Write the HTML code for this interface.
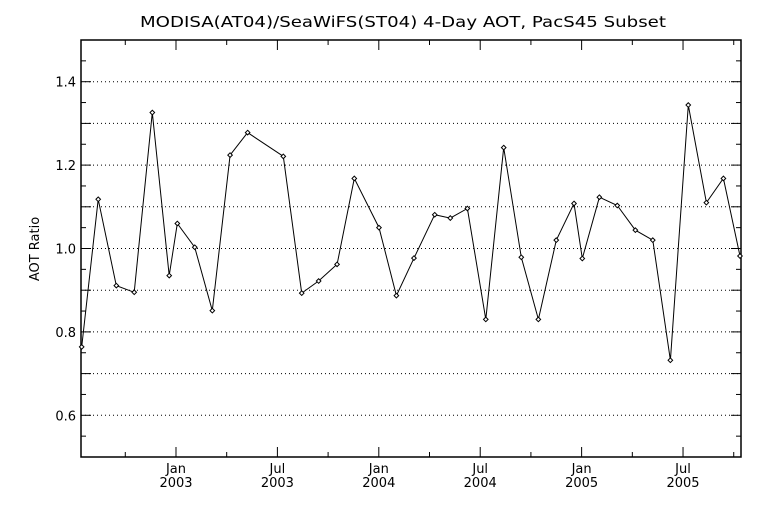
<!DOCTYPE html>
<html><head><meta charset="utf-8"><style>
body{margin:0;background:#fff}
svg{display:block;font-family:"DejaVu Sans","Liberation Sans",sans-serif}
</style></head><body>
<svg id="chart" width="768" height="512" viewBox="0 0 768 512" xmlns="http://www.w3.org/2000/svg">
<rect width="768" height="512" fill="#fff"/>
<text x="403" y="27" font-size="15" text-anchor="middle" textLength="526" lengthAdjust="spacingAndGlyphs">MODISA(AT04)/SeaWiFS(ST04) 4-Day AOT, PacS45 Subset</text>
<text transform="translate(39,249) rotate(-90)" font-size="13" text-anchor="middle">AOT Ratio</text>
<g id="grid"></g><g id="axes"></g><g id="series"></g>
</svg>
<script>
// months since Jan 2003 (0 = Jan 2003)
const months=[-5.58,-4.60,-3.53,-2.47,-1.40,-0.40,0.08,1.11,2.15,3.20,4.24,6.35,7.44,8.44,9.53,10.55,12.01,13.04,14.08,15.31,16.23,17.24,18.33,19.39,20.43,21.44,22.50,23.55,24.04,25.05,26.11,27.18,28.21,29.25,30.31,31.38,32.39,33.37];
const ratios=[0.764,1.118,0.911,0.895,1.326,0.935,1.060,1.003,0.851,1.224,1.278,1.221,0.893,0.922,0.962,1.168,1.050,0.887,0.977,1.081,1.073,1.096,0.830,1.242,0.979,0.830,1.020,1.108,0.976,1.123,1.103,1.044,1.020,0.732,1.344,1.110,1.168,0.982];
const yTickVals=[0.6,0.8,1.0,1.2,1.4];
const yTickLabels=["0.6","0.8","1.0","1.2","1.4"];
const xTickMonths=[0,6,12,18,24,30];
const xTickLabels=[["Jan","2003"],["Jul","2003"],["Jan","2004"],["Jul","2004"],["Jan","2005"],["Jul","2005"]];

const L=81,R=741,T=40,B=457,xMin=-5.62,xMax=33.43,yMin=0.5,yMax=1.5;
const X=m=>L+(m-xMin)/(xMax-xMin)*(R-L);
const Y=v=>B-(v-yMin)/(yMax-yMin)*(B-T);
const NS="http://www.w3.org/2000/svg";
function mk(tag,attrs,parent){const e=document.createElementNS(NS,tag);for(const k in attrs)e.setAttribute(k,attrs[k]);parent.appendChild(e);return e;}
const grid=document.getElementById('grid'),axes=document.getElementById('axes'),series=document.getElementById('series');

for(let i=6;i<=14;i++){const v=i/10;
 const g=mk('line',{x1:L,x2:R,y1:Y(v),y2:Y(v),stroke:'#000','stroke-width':1,'stroke-dasharray':'1 3'},grid);
 
 
}
const box=mk('rect',{x:L,y:T,width:R-L,height:B-T,fill:'none',stroke:'#000','stroke-width':1.5},axes);


for(let i=11;i<=29;i++){const v=i/20;const len=(i%2==0)?10:5;
 mk('line',{x1:L,x2:L+len,y1:Y(v),y2:Y(v),stroke:'#000'},axes);
 mk('line',{x1:R,x2:R-len,y1:Y(v),y2:Y(v),stroke:'#000'},axes);
}
yTickVals.forEach((v,i)=>{const t=mk('text',{x:L-5,y:Y(v)+5,'font-size':13,'text-anchor':'end'},axes);t.textContent=yTickLabels[i];
 
 
});
for(let m=-3;m<=33;m+=3){const len=(m%6==0)?10:5;
 mk('line',{x1:X(m),x2:X(m),y1:B,y2:B-len,stroke:'#000'},axes);
 mk('line',{x1:X(m),x2:X(m),y1:T,y2:T+len,stroke:'#000'},axes);
}
xTickMonths.forEach((m,i)=>{
 const t1=mk('text',{x:X(m),y:B+16,'font-size':13,'text-anchor':'middle'},axes);t1.textContent=xTickLabels[i][0];
 
 
 const t2=mk('text',{x:X(m),y:B+30,'font-size':13,'text-anchor':'middle'},axes);t2.textContent=xTickLabels[i][1];
 
 
});
const pts=months.map((m,i)=>X(m).toFixed(1)+','+Y(ratios[i]).toFixed(1)).join(' ');
const line=mk('polyline',{points:pts,fill:'none',stroke:'#000','stroke-width':1},series);


months.forEach((m,i)=>{const x=X(m),y=Y(ratios[i]);
 const d=mk('polygon',{points:`${x},${y-2.3} ${x+2.3},${y} ${x},${y+2.3} ${x-2.3},${y}`,fill:'#fff',stroke:'#000','stroke-width':1},series);
 
 
});
</script>
</body></html>
